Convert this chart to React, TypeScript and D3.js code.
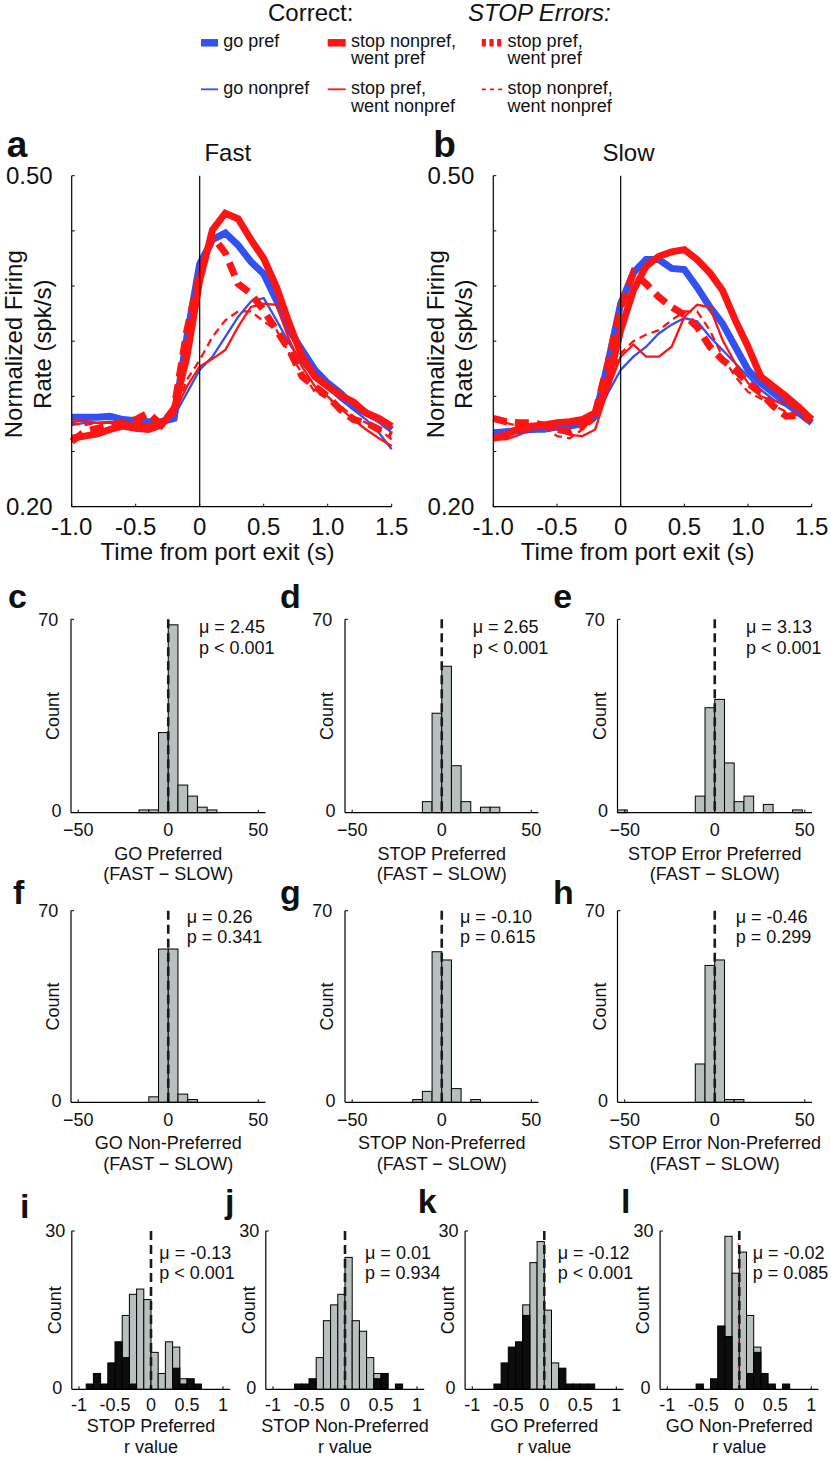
import React from "react";
import * as d3 from "d3";

const FONT = "'Liberation Sans', Arial, Helvetica, sans-serif";
const BLUE = "#3350f2";
const RED = "#ff1414";
const GREY = "#b8c0bf";
const BLACKBAR = "#0d0d0d";

// ---------- line plots (a, b) ----------
const timeSec = [-1.0, -0.9, -0.8, -0.7, -0.6, -0.5, -0.4, -0.3, -0.2, -0.1, 0, 0.1, 0.2, 0.3, 0.4, 0.5, 0.6, 0.7, 0.8, 0.9, 1.0, 1.1, 1.2, 1.3, 1.4, 1.5];

const fastGoPref = [0.281, 0.281, 0.281, 0.282, 0.279, 0.278, 0.277, 0.277, 0.280, 0.354, 0.420, 0.442, 0.448, 0.437, 0.422, 0.411, 0.387, 0.360, 0.342, 0.324, 0.312, 0.303, 0.291, 0.285, 0.279, 0.270];
const fastGoNonpref = [0.274, 0.276, 0.276, 0.277, 0.276, 0.276, 0.276, 0.275, 0.282, 0.303, 0.324, 0.336, 0.354, 0.372, 0.386, 0.389, 0.369, 0.348, 0.330, 0.316, 0.307, 0.297, 0.288, 0.279, 0.267, 0.252];
const fastStopNonprefWentPref = [0.262, 0.264, 0.266, 0.270, 0.273, 0.271, 0.270, 0.274, 0.288, 0.336, 0.405, 0.451, 0.466, 0.461, 0.442, 0.425, 0.399, 0.366, 0.336, 0.318, 0.309, 0.301, 0.295, 0.285, 0.280, 0.273];
const fastStopPrefWentNonpref = [0.277, 0.278, 0.276, 0.276, 0.275, 0.274, 0.274, 0.276, 0.285, 0.309, 0.327, 0.334, 0.342, 0.363, 0.381, 0.384, 0.383, 0.351, 0.327, 0.309, 0.300, 0.289, 0.279, 0.270, 0.262, 0.255];
const fastErrStopPrefWentPref = [0.259, 0.268, 0.271, 0.274, 0.276, 0.279, 0.285, 0.274, 0.289, 0.360, 0.411, 0.445, 0.430, 0.402, 0.393, 0.378, 0.360, 0.342, 0.318, 0.309, 0.300, 0.288, 0.279, 0.276, 0.270, 0.265];
const fastErrStopNonprefWentNonpref = [0.276, 0.274, 0.276, 0.276, 0.276, 0.276, 0.275, 0.276, 0.283, 0.315, 0.333, 0.354, 0.369, 0.377, 0.377, 0.368, 0.360, 0.339, 0.321, 0.304, 0.298, 0.291, 0.282, 0.276, 0.270, 0.261];

const slowGoPref = [0.267, 0.268, 0.269, 0.270, 0.272, 0.273, 0.274, 0.276, 0.282, 0.330, 0.384, 0.412, 0.424, 0.424, 0.416, 0.415, 0.399, 0.381, 0.366, 0.345, 0.324, 0.312, 0.303, 0.294, 0.285, 0.276];
const slowGoNonpref = [0.264, 0.265, 0.267, 0.268, 0.268, 0.270, 0.271, 0.273, 0.279, 0.303, 0.324, 0.336, 0.345, 0.357, 0.365, 0.371, 0.368, 0.354, 0.342, 0.330, 0.318, 0.306, 0.297, 0.291, 0.283, 0.276];
const slowStopNonprefWentPref = [0.262, 0.265, 0.271, 0.273, 0.274, 0.276, 0.277, 0.279, 0.285, 0.312, 0.360, 0.396, 0.418, 0.427, 0.431, 0.433, 0.424, 0.412, 0.396, 0.369, 0.345, 0.318, 0.309, 0.300, 0.290, 0.279];
const slowStopPrefWentNonpref = [0.261, 0.261, 0.265, 0.270, 0.273, 0.270, 0.265, 0.264, 0.270, 0.306, 0.336, 0.347, 0.336, 0.336, 0.345, 0.372, 0.383, 0.381, 0.351, 0.330, 0.312, 0.300, 0.296, 0.294, 0.287, 0.276];
const slowErrStopPrefWentPref = [0.280, 0.277, 0.276, 0.276, 0.274, 0.270, 0.268, 0.273, 0.285, 0.330, 0.381, 0.412, 0.402, 0.390, 0.381, 0.374, 0.363, 0.345, 0.333, 0.324, 0.312, 0.303, 0.291, 0.282, 0.283, 0.279];
const slowErrStopNonprefWentNonpref = [0.279, 0.276, 0.273, 0.273, 0.273, 0.264, 0.262, 0.270, 0.279, 0.309, 0.339, 0.350, 0.356, 0.360, 0.369, 0.377, 0.377, 0.360, 0.336, 0.318, 0.304, 0.298, 0.292, 0.286, 0.282, 0.276];

const lineXTicks = [-1.0, -0.5, 0, 0.5, 1.0, 1.5];
const lineXTickLabels = ["-1.0", "-0.5", "0", "0.5", "1.0", "1.5"];
const lineYTicks = [0.20, 0.25, 0.30, 0.35, 0.40, 0.45, 0.50];
const lineYTickLabels = ["0.20", "", "", "", "", "", "0.50"];

// ---------- histograms c-h (FAST - SLOW) ----------
const diffBinStart = -54;
const diffBinWidth = 5.4;
const goPrefDiff = [0, 0, 0, 0, 0, 0, 0, 1, 1, 29, 68, 10, 6, 2, 1, 0, 0, 0, 0, 0];
const stopPrefDiff = [0, 0, 0, 0, 0, 0, 0, 0, 4, 36, 53, 17, 4, 0, 2, 2, 0, 0, 0, 0];
const stopErrPrefDiff = [1, 0, 0, 0, 0, 0, 0, 0, 6, 38, 41, 18, 4, 6, 0, 3, 0, 0, 1, 0];
const goNonprefDiff = [0, 0, 0, 0, 0, 0, 0, 0, 2, 56, 56, 3, 1, 0, 0, 0, 0, 0, 0, 0];
const stopNonprefDiff = [0, 0, 0, 0, 0, 0, 0, 1, 4, 55, 52, 5, 0, 1, 0, 0, 0, 0, 0, 0];
const stopErrNonprefDiff = [0, 0, 0, 0, 0, 0, 0, 0, 14, 50, 52, 1, 1, 0, 0, 0, 0, 0, 0, 0];
const diffTicks = [-50, 0, 50];
const diffTickLabels = ["\u221250", "0", "50"];

// ---------- histograms i-l (r values) ----------
const rBinStart = -1.1;
const rBinWidth = 0.1;
const stopPrefRGrey = [0, 0, 0, 0, 0, 0, 0, 14, 18, 19, 17, 7, 3, 9, 8, 2, 0, 0, 0, 0, 0, 0];
const stopPrefRBlack = [0, 0, 1, 3, 1, 5, 9, 6, 1, 0, 0, 0, 0, 0, 4, 1, 2, 1, 0, 0, 0, 0];
const stopNonprefRGrey = [0, 0, 0, 0, 0, 0, 0, 6, 13, 16, 18, 25, 13, 11, 6, 3, 0, 0, 0, 0, 0, 0];
const stopNonprefRBlack = [0, 0, 0, 0, 1, 1, 2, 0, 0, 0, 0, 0, 0, 0, 0, 2, 3, 0, 1, 0, 0, 0];
const goPrefRGrey = [0, 0, 0, 0, 0, 0, 0, 0, 16, 24, 28, 15, 5, 0, 0, 0, 0, 0, 0, 0, 0, 0];
const goPrefRBlack = [0, 0, 0, 0, 1, 5, 8, 9, 14, 0, 0, 0, 0, 4, 1, 1, 1, 1, 0, 0, 0, 0];
const goNonprefRGrey = [0, 0, 0, 0, 0, 0, 0, 0, 0, 29, 22, 26, 14, 8, 0, 0, 0, 0, 0, 0, 0, 0];
const goNonprefRBlack = [0, 0, 0, 0, 0, 1, 0, 2, 12, 10, 0, 0, 3, 7, 3, 1, 0, 1, 0, 0, 0, 0];
const rTicks = [-1, -0.5, 0, 0.5, 1];
const rTickLabels = ["-1", "-0.5", "0", "0.5", "1"];

// ---------- layout ----------
const seriesStyles = [
  { color: BLUE, width: 2.3, dash: null as string | null },
  { color: BLUE, width: 7, dash: null },
  { color: RED, width: 2.3, dash: null },
  { color: RED, width: 2.3, dash: "8,5" },
  { color: RED, width: 7, dash: null },
  { color: RED, width: 7, dash: "14,8" },
];

const linePanels = [
  {
    letter: "a", title: "Fast", left: 71.7, right: 391.7, titleX: 227.8, letterX: 6.7, xlabelX: 217.5,
    series: [fastGoNonpref, fastGoPref, fastStopPrefWentNonpref, fastErrStopNonprefWentNonpref, fastStopNonprefWentPref, fastErrStopPrefWentPref],
  },
  {
    letter: "b", title: "Slow", left: 493.3, right: 811.7, titleX: 628.5, letterX: 433.3, xlabelX: 637.7,
    series: [slowGoNonpref, slowGoPref, slowStopPrefWentNonpref, slowErrStopNonprefWentNonpref, slowStopNonprefWentPref, slowErrStopPrefWentPref],
  },
];
const LINE_TOP = 175.7;
const LINE_BOTTOM = 506.7;

function LinePanel({ p }: { p: any }) {
  const x = d3.scaleLinear().domain([-1, 1.5]).range([p.left, p.right]);
  const y = d3.scaleLinear().domain([0.2, 0.5]).range([LINE_BOTTOM, LINE_TOP]);
  const line = d3.line<number>().x((_, i) => x(timeSec[i])).y((v) => y(v));
  const midY = (LINE_TOP + LINE_BOTTOM) / 2 + 3;
  return (
    <g fontFamily={FONT} fill="#111">
      <text x={p.letterX} y={157.3} fontSize={37} fontWeight="bold">{p.letter}</text>
      <text x={p.titleX} y={160.7} fontSize={24} textAnchor="middle">{p.title}</text>
      {p.series.map((s: number[], i: number) => {
        const st = seriesStyles[i];
        return (
          <path key={i} d={line(s) || ""} fill="none" stroke={st.color} strokeWidth={st.width}
            strokeDasharray={st.dash || undefined} strokeLinejoin="miter" strokeMiterlimit={3} />
        );
      })}
      <line x1={x(0)} x2={x(0)} y1={LINE_TOP} y2={LINE_BOTTOM} stroke="#000" strokeWidth={1.2} />
      <line x1={p.left} x2={p.left} y1={LINE_TOP} y2={LINE_BOTTOM} stroke="#000" strokeWidth={1.2} />
      <line x1={p.left} x2={p.right} y1={LINE_BOTTOM} y2={LINE_BOTTOM} stroke="#000" strokeWidth={1.2} />
      {lineYTicks.map((t, i) => (
        <g key={"y" + i}>
          <line x1={p.left} x2={p.left + 3} y1={y(t)} y2={y(t)} stroke="#000" strokeWidth={1} />
          {lineYTickLabels[i] && (
            <text x={p.left - 19} y={y(t) + 8.5} fontSize={24} textAnchor="end">{lineYTickLabels[i]}</text>
          )}
        </g>
      ))}
      {lineXTicks.map((t, i) => (
        <g key={"x" + i}>
          <line x1={x(t)} x2={x(t)} y1={LINE_BOTTOM} y2={LINE_BOTTOM - 3} stroke="#000" strokeWidth={1} />
          <text x={x(t)} y={535} fontSize={24} textAnchor="middle">{lineXTickLabels[i]}</text>
        </g>
      ))}
      <text x={p.xlabelX} y={560} fontSize={24} textAnchor="middle">Time from port exit (s)</text>
      <text transform={`translate(${p.left - 49.5},${midY}) rotate(-90)`} fontSize={24} textAnchor="middle">Normalized Firing</text>
      <text transform={`translate(${p.left - 21},${midY}) rotate(-90)`} fontSize={24} textAnchor="middle">Rate (spk/s)</text>
    </g>
  );
}

const diffCols = [
  { left: 71, right: 265.5 },
  { left: 345, right: 538.5 },
  { left: 617.5, right: 812 },
];
const diffRows = [
  { top: 619.3, bottom: 812.7, letterY: 608.3, statY1: 633.3, statY2: 653.8 },
  { top: 910.7, bottom: 1102.3, letterY: 904, statY1: 923.3, statY2: 943.3 },
];
const diffPanels = [
  { letter: "c", row: 0, col: 0, letterX: 8, counts: goPrefDiff, statX: 199, stats: ["\u03bc = 2.45", "p < 0.001"], xl: ["GO Preferred", "(FAST \u2212 SLOW)"] },
  { letter: "d", row: 0, col: 1, letterX: 280, counts: stopPrefDiff, statX: 472.7, stats: ["\u03bc = 2.65", "p < 0.001"], xl: ["STOP Preferred", "(FAST \u2212 SLOW)"] },
  { letter: "e", row: 0, col: 2, letterX: 553.3, counts: stopErrPrefDiff, statX: 746, stats: ["\u03bc = 3.13", "p < 0.001"], xl: ["STOP Error Preferred", "(FAST \u2212 SLOW)"] },
  { letter: "f", row: 1, col: 0, letterX: 13, counts: goNonprefDiff, statX: 186.7, stats: ["\u03bc = 0.26", "p = 0.341"], xl: ["GO Non-Preferred", "(FAST \u2212 SLOW)"] },
  { letter: "g", row: 1, col: 1, letterX: 280, counts: stopNonprefDiff, statX: 460, stats: ["\u03bc = -0.10", "p = 0.615"], xl: ["STOP Non-Preferred", "(FAST \u2212 SLOW)"] },
  { letter: "h", row: 1, col: 2, letterX: 553, counts: stopErrNonprefDiff, statX: 735.7, stats: ["\u03bc = -0.46", "p = 0.299"], xl: ["STOP Error Non-Preferred", "(FAST \u2212 SLOW)"] },
];

const R_TOP = 1231;
const R_BOTTOM = 1389.3;
const rPanels = [
  { letter: "i", left: 71.8, right: 230.2, letterX: 20, letterY: 1218, grey: stopPrefRGrey, black: stopPrefRBlack, statX: 159.3, stats: ["\u03bc = -0.13", "p < 0.001"], xl: ["STOP Preferred", "r value"], redZero: false },
  { letter: "j", left: 265.8, right: 424.2, letterX: 225, letterY: 1213, grey: stopNonprefRGrey, black: stopNonprefRBlack, statX: 365, stats: ["\u03bc = 0.01", "p = 0.934"], xl: ["STOP Non-Preferred", "r value"], redZero: false },
  { letter: "k", left: 465.1, right: 623.5, letterX: 417.7, letterY: 1213.3, grey: goPrefRGrey, black: goPrefRBlack, statX: 557.7, stats: ["\u03bc = -0.12", "p < 0.001"], xl: ["GO Preferred", "r value"], redZero: false },
  { letter: "l", left: 660.1, right: 818.5, letterX: 621, letterY: 1213.3, grey: goNonprefRGrey, black: goNonprefRBlack, statX: 752.7, stats: ["\u03bc = -0.02", "p = 0.085"], xl: ["GO Non-Preferred", "r value"], redZero: true },
];

function Bars({ counts, x, y, start, width, fill }: any) {
  return (
    <g>
      {counts.map((c: number, i: number) =>
        c > 0 ? (
          <rect key={i} x={x(start + i * width)} width={x(start + (i + 1) * width) - x(start + i * width)}
            y={y(c)} height={y(0) - y(c)} fill={fill} stroke="#000" strokeWidth={1} />
        ) : null
      )}
    </g>
  );
}

function HistFrame({ left, right, top, bottom, x, yMaxLabel, ticks, tickLabels, tickLabelDy, xl, xlDy1, xlDy2, countDx, topLabelDx, zeroLabelDx }: any) {
  const cx = (left + right) / 2;
  const cy = (top + bottom) / 2;
  return (
    <g fontFamily={FONT} fill="#111">
      <line x1={left} x2={left} y1={top} y2={bottom} stroke="#000" strokeWidth={1.2} />
      <line x1={left} x2={right} y1={bottom} y2={bottom} stroke="#000" strokeWidth={1.2} />
      <line x1={left} x2={left + 3} y1={top} y2={top} stroke="#000" strokeWidth={1} />
      {ticks.map((t: number, i: number) => (
        <g key={i}>
          <line x1={x(t)} x2={x(t)} y1={bottom} y2={bottom - 3} stroke="#000" strokeWidth={1} />
          <text x={x(t)} y={bottom + tickLabelDy} fontSize={18} textAnchor="middle">{tickLabels[i]}</text>
        </g>
      ))}
      <text x={left - topLabelDx} y={top + 6.4} fontSize={18} textAnchor="end">{yMaxLabel}</text>
      <text x={left - zeroLabelDx} y={bottom + 4.5} fontSize={18} textAnchor="end">0</text>
      <text transform={`translate(${left - countDx},${cy}) rotate(-90)`} fontSize={18} textAnchor="middle">Count</text>
      <text x={cx} y={bottom + xlDy1} fontSize={18} textAnchor="middle">{xl[0]}</text>
      <text x={cx} y={bottom + xlDy2} fontSize={18} textAnchor="middle">{xl[1]}</text>
    </g>
  );
}

function DiffPanel({ p }: { p: any }) {
  const col = diffCols[p.col];
  const row = diffRows[p.row];
  const x = d3.scaleLinear().domain([-54, 54]).range([col.left, col.right]);
  const y = d3.scaleLinear().domain([0, 70]).range([row.bottom, row.top]);
  return (
    <g>
      <Bars counts={p.counts} x={x} y={y} start={diffBinStart} width={diffBinWidth} fill={GREY} />
      <line x1={x(0)} x2={x(0)} y1={row.top} y2={row.bottom} stroke="#1a1a1a" strokeWidth={2.6} strokeDasharray="9,5" />
      <HistFrame left={col.left} right={col.right} top={row.top} bottom={row.bottom} x={x} yMaxLabel="70"
        ticks={diffTicks} tickLabels={diffTickLabels} tickLabelDy={23.5} xl={p.xl} xlDy1={47} xlDy2={67.5}
        countDx={12} topLabelDx={12.7} zeroLabelDx={9.5} />
      <g fontFamily={FONT} fill="#111" fontSize={18}>
        <text x={p.statX} y={row.statY1}>{p.stats[0]}</text>
        <text x={p.statX} y={row.statY2}>{p.stats[1]}</text>
        <text x={p.letterX} y={row.letterY} fontSize={34} fontWeight="bold">{p.letter}</text>
      </g>
    </g>
  );
}

function RPanel({ p }: { p: any }) {
  const x = d3.scaleLinear().domain([-1.1, 1.1]).range([p.left, p.right]);
  const y = d3.scaleLinear().domain([0, 30]).range([R_BOTTOM, R_TOP]);
  return (
    <g>
      <Bars counts={p.grey} x={x} y={y} start={rBinStart} width={rBinWidth} fill={GREY} />
      <Bars counts={p.black} x={x} y={y} start={rBinStart} width={rBinWidth} fill={BLACKBAR} />
      {p.redZero && (
        <line x1={x(0) - 1} x2={x(0) - 1} y1={R_TOP + 4} y2={R_BOTTOM} stroke="#ff2020" strokeWidth={1.3} strokeDasharray="1.2,7" />
      )}
      <line x1={x(0)} x2={x(0)} y1={R_TOP} y2={R_BOTTOM} stroke="#1a1a1a" strokeWidth={2.6} strokeDasharray="9,5" />
      <HistFrame left={p.left} right={p.right} top={R_TOP} bottom={R_BOTTOM} x={x} yMaxLabel="30"
        ticks={rTicks} tickLabels={rTickLabels} tickLabelDy={21.5} xl={p.xl} xlDy1={42.4} xlDy2={64}
        countDx={11} topLabelDx={6.5} zeroLabelDx={9.5} />
      <g fontFamily={FONT} fill="#111" fontSize={18}>
        <text x={p.statX} y={1258.8}>{p.stats[0]}</text>
        <text x={p.statX} y={1279.3}>{p.stats[1]}</text>
        <text x={p.letterX} y={p.letterY} fontSize={34} fontWeight="bold">{p.letter}</text>
      </g>
    </g>
  );
}

const legendItems = [
  { x: 201, w: 17, row: 0, color: BLUE, kind: "thick", lines: ["go pref"] },
  { x: 327.7, w: 18, row: 0, color: RED, kind: "thick", lines: ["stop nonpref,", "went pref"] },
  { x: 481.7, w: 20.6, row: 0, color: RED, kind: "thickdash", lines: ["stop pref,", "went pref"] },
  { x: 201, w: 17, row: 1, color: BLUE, kind: "thin", lines: ["go nonpref"] },
  { x: 327.7, w: 18, row: 1, color: RED, kind: "thin", lines: ["stop pref,", "went nonpref"] },
  { x: 481.7, w: 20.6, row: 1, color: RED, kind: "thindash", lines: ["stop nonpref,", "went nonpref"] },
];

function Legend() {
  const rowMarkerY = [42.8, 89.3];
  const rowBase = [47, 94.3];
  return (
    <g fontFamily={FONT} fill="#111">
      <text x={268} y={20.7} fontSize={24}>Correct:</text>
      <text x={468} y={20.7} fontSize={24} fontStyle="italic">STOP Errors:</text>
      {legendItems.map((it, i) => {
        const my = rowMarkerY[it.row];
        let marker: React.ReactNode = null;
        if (it.kind === "thick") {
          marker = <line x1={it.x} x2={it.x + it.w} y1={my} y2={my} stroke={it.color} strokeWidth={7.5} />;
        } else if (it.kind === "thickdash") {
          marker = <line x1={it.x} x2={it.x + it.w} y1={my} y2={my} stroke={it.color} strokeWidth={7.5} strokeDasharray="4.2,3.5" />;
        } else if (it.kind === "thin") {
          marker = <line x1={it.x} x2={it.x + it.w} y1={my} y2={my} stroke={it.color} strokeWidth={1.8} />;
        } else {
          marker = <line x1={it.x} x2={it.x + it.w} y1={my} y2={my} stroke={it.color} strokeWidth={1.8} strokeDasharray="4.2,4" />;
        }
        return (
          <g key={i}>
            {marker}
            {it.lines.map((ln, j) => (
              <text key={j} x={it.x + it.w + 5.3} y={rowBase[it.row] + j * 17.3} fontSize={18}>{ln}</text>
            ))}
          </g>
        );
      })}
    </g>
  );
}

export default function App() {
  return (
    <svg width={831} height={1460} viewBox="0 0 831 1460"
      style={{ position: "absolute", left: 0, top: 0, background: "#fff" }}>
      <rect x={0} y={0} width={831} height={1460} fill="#fff" />
      <Legend />
      {linePanels.map((p) => <LinePanel key={p.letter} p={p} />)}
      {diffPanels.map((p) => <DiffPanel key={p.letter} p={p} />)}
      {rPanels.map((p) => <RPanel key={p.letter} p={p} />)}
    </svg>
  );
}
